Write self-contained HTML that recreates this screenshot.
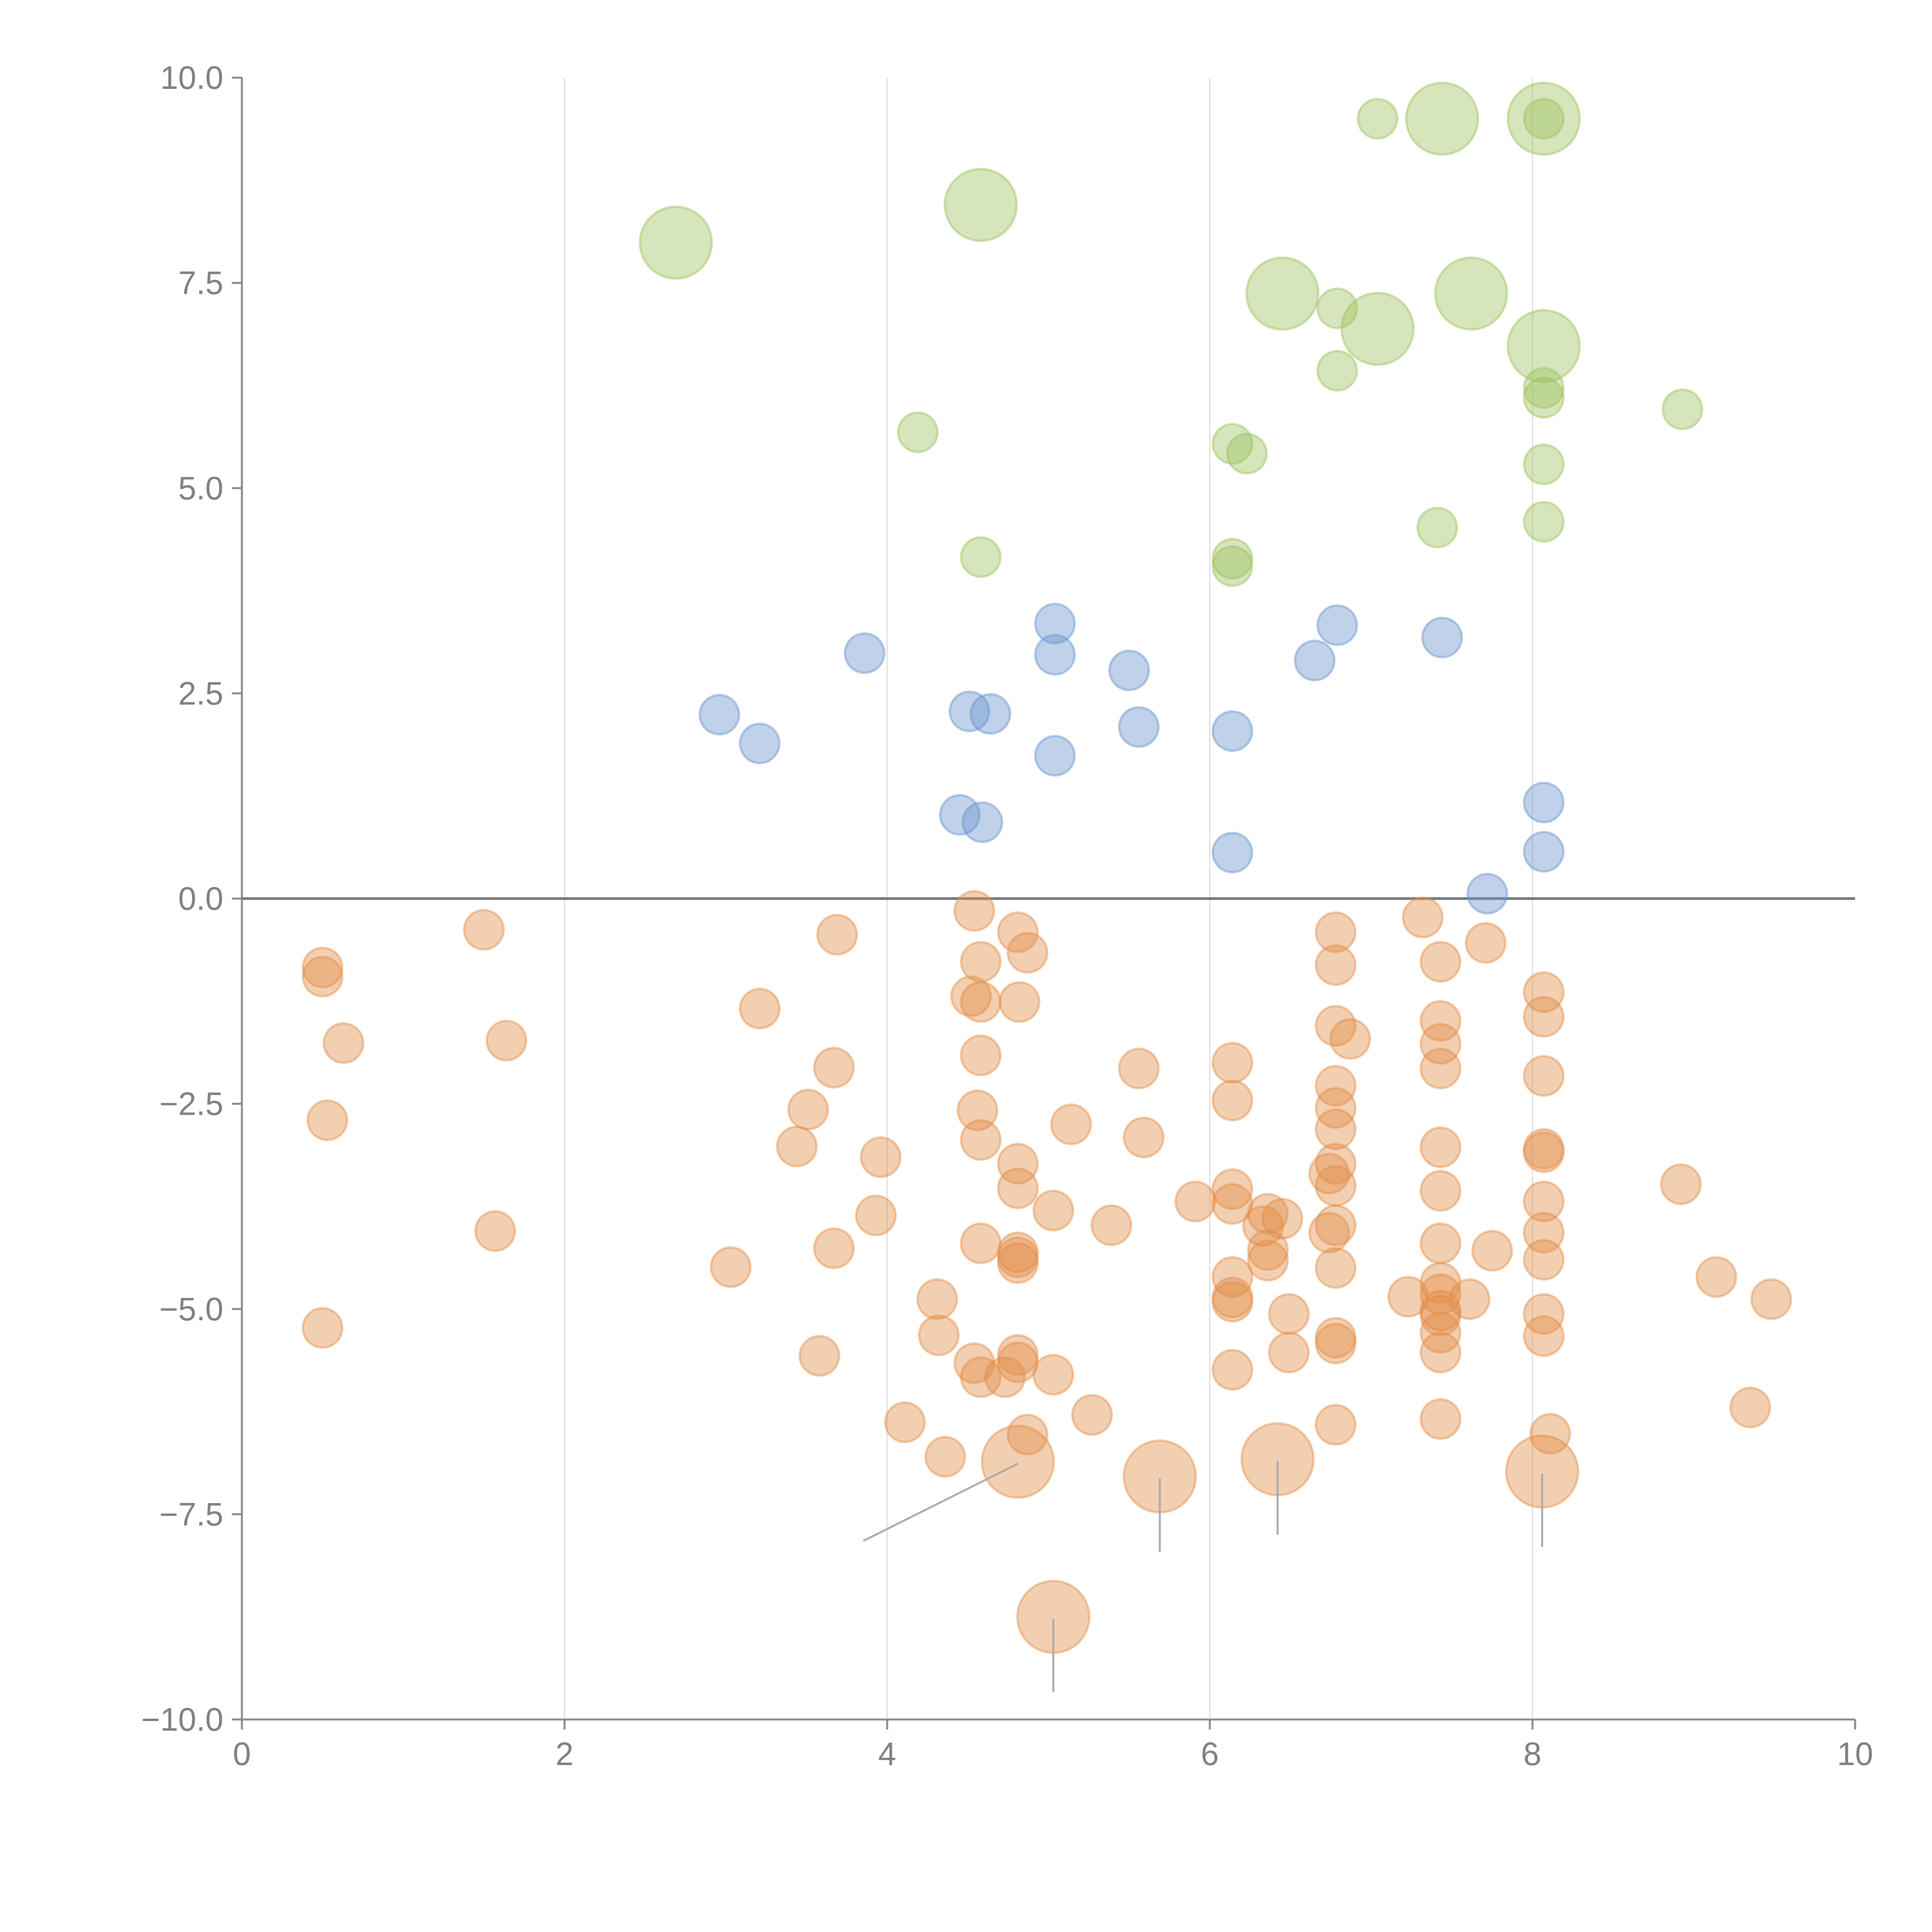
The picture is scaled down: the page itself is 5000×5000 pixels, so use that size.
<!DOCTYPE html>
<html><head><meta charset="utf-8"><style>html,body{margin:0;padding:0;background:#fff}svg{display:block}</style></head>
<body>
<svg id="chart" width="5000" height="5000" viewBox="0 0 5000 5000" xmlns="http://www.w3.org/2000/svg" font-family="'Liberation Sans', sans-serif"></svg>
<script>
const xTicks = [0, 2, 4, 6, 8, 10];
const yTicks = [10, 7.5, 5, 2.5, 0, -2.5, -5, -7.5, -10];
const yTickLabels = ["10.0", "7.5", "5.0", "2.5", "0.0", "\u22122.5", "\u22125.0", "\u22127.5", "\u221210.0"];
const greenX = [2.69,4.58,7.04,7.44,8.07,8.07,6.45,6.79,7.04,7.62,8.07,6.79,8.07,8.07,8.93,4.19,6.14,6.23,8.07,7.41,8.07,4.58,6.14,6.14];
const greenY = [7.99,8.45,9.5,9.5,9.5,9.5,7.37,7.19,6.94,7.37,6.73,6.43,6.22,6.1,5.96,5.68,5.54,5.42,5.29,4.52,4.59,4.16,4.14,4.05];
const greenS = [1,1,0,1,1,0,1,0,1,1,1,0,0,0,0,0,0,0,0,0,0,0,0,0];
const blueX = [2.96,3.21,3.86,4.51,4.64,5.04,5.04,5.04,5.5,5.56,4.45,4.59,6.14,6.14,6.65,6.79,7.44,8.07,8.07,7.72];
const blueY = [2.24,1.89,2.99,2.28,2.25,3.35,2.97,1.74,2.78,2.09,1.02,0.93,2.04,0.56,2.9,3.33,3.18,1.17,0.57,0.06];
const orangeX = [0.5,0.5,0.63,0.53,0.5,1.5,1.64,1.57,3.03,3.21,3.69,3.67,3.51,3.44,3.96,3.93,3.67,3.58,4.11,4.36,4.31,4.32,4.54,4.58,4.52,4.58,4.58,4.56,4.58,4.81,4.87,4.82,4.81,4.81,5.03,4.58,4.81,4.81,4.81,4.54,4.58,4.73,4.81,4.81,5.03,4.87,4.81,5.14,5.27,5.56,5.59,5.39,5.91,5.69,5.03,6.14,6.14,6.14,6.14,6.14,6.14,6.14,6.14,6.36,6.45,6.33,6.36,6.36,6.49,6.49,6.42,6.78,6.78,6.78,6.87,6.78,6.78,6.78,6.78,6.74,6.78,6.78,6.74,6.78,6.78,6.78,6.78,7.23,7.32,7.43,7.43,7.43,7.43,7.43,7.43,7.43,7.43,7.43,7.43,7.43,7.43,7.43,7.43,7.61,7.71,7.75,8.07,8.07,8.07,8.07,8.07,8.07,8.07,8.07,8.07,8.07,8.11,8.06,8.92,9.14,9.48,9.35];
const orangeY = [-0.84,-0.95,-1.76,-2.7,-5.23,-0.38,-1.73,-4.05,-4.49,-1.34,-0.44,-2.06,-2.57,-3.02,-3.15,-3.86,-4.26,-5.57,-6.38,-6.8,-4.88,-5.32,-0.15,-0.77,-1.19,-1.26,-1.91,-2.58,-2.94,-0.41,-0.66,-1.26,-3.23,-3.53,-3.8,-4.2,-4.31,-4.37,-4.44,-5.66,-5.83,-5.83,-5.56,-5.65,-5.8,-6.53,-6.86,-2.75,-6.29,-2.07,-2.91,-3.98,-3.69,-7.04,-8.75,-2.0,-2.46,-3.54,-3.72,-4.61,-4.86,-4.91,-5.74,-3.84,-3.9,-3.99,-4.28,-4.41,-5.06,-5.53,-6.83,-0.41,-0.81,-1.55,-1.71,-2.28,-2.55,-2.81,-3.23,-3.35,-3.5,-3.98,-4.07,-4.5,-5.35,-5.42,-6.41,-4.85,-0.23,-0.77,-1.49,-1.77,-2.07,-3.03,-3.56,-4.2,-4.68,-4.82,-5.02,-5.08,-5.29,-5.53,-6.34,-4.88,-0.54,-4.29,-1.14,-1.44,-2.16,-3.05,-3.09,-3.69,-4.07,-4.4,-5.06,-5.33,-6.52,-6.98,-3.48,-4.61,-4.88,-6.2];
const orangeBig = [46,53,54,70,117];
const annX = [4.81,5.69,6.42,8.06,5.03];
const annY = [-6.86,-7.04,-6.83,-6.98,-8.75];
const annDX = [-400,0,0,0,0];
const annDY = [205,195,195,195,195];

const NS='http://www.w3.org/2000/svg';
const svg=document.getElementById('chart');
const L=626,R=4801,T=201,B=4450;
const sx=v=>L+(v-0)/(10-0)*(R-L);
const sy=v=>B-(v+10)/20*(B-T);
function mk(tag,attrs,parent){const e=document.createElementNS(NS,tag);for(const k in attrs)e.setAttribute(k,attrs[k]);(parent||svg).appendChild(e);return e;}

xTicks.forEach(t=>{ if(t>0&&t<10){const g=mk('line',{x1:sx(t),x2:sx(t),y1:T,y2:B,stroke:'#dcdcdc','stroke-width':3});

}});
const ya=mk('line',{x1:L,x2:L,y1:T,y2:B,stroke:'#888','stroke-width':5});


const xa=mk('line',{x1:L,x2:R,y1:B,y2:B,stroke:'#888','stroke-width':5});


yTicks.forEach((t,i)=>{
  const tk=mk('line',{x1:L-26,x2:L,y1:sy(t),y2:sy(t),stroke:'#888','stroke-width':5});
  
  
  const tx=mk('text',{x:L-48,y:sy(t)+29,'text-anchor':'end','font-size':84,fill:'#808080'});
  tx.textContent=yTickLabels[i];
  
  
});
xTicks.forEach(t=>{
  const tk=mk('line',{x1:sx(t),x2:sx(t),y1:B,y2:B+26,stroke:'#888','stroke-width':5});
  
  
  const tx=mk('text',{x:sx(t),y:B+118,'text-anchor':'middle','font-size':84,fill:'#808080'});
  tx.textContent=String(t);
  
  
});
const z=mk('line',{x1:L,x2:R,y1:sy(0),y2:sy(0),stroke:'#7a7a7a','stroke-width':7});



function series(xs,ys,big,fill,name){
  xs.forEach((x,i)=>{
    const r=big(i)?93:51;
    const c=mk('circle',{cx:sx(x),cy:sy(ys[i]),r:r,fill:fill,'fill-opacity':0.42,stroke:fill,'stroke-opacity':0.45,'stroke-width':6});
    
    
  });
}
series(greenX,greenY,i=>greenS[i]===1,'#9dc25e','green-bubble');
series(blueX,blueY,i=>false,'#6a93cc','blue-bubble');
series(orangeX,orangeY,i=>orangeBig.includes(i),'#e38d48','orange-bubble');

annX.forEach((x,i)=>{
  const l=mk('line',{x1:sx(x),y1:sy(annY[i])+5,x2:sx(x)+annDX[i],y2:sy(annY[i])+annDY[i],stroke:'#aaa','stroke-width':5});
  
  
});
</script>
</body></html>
